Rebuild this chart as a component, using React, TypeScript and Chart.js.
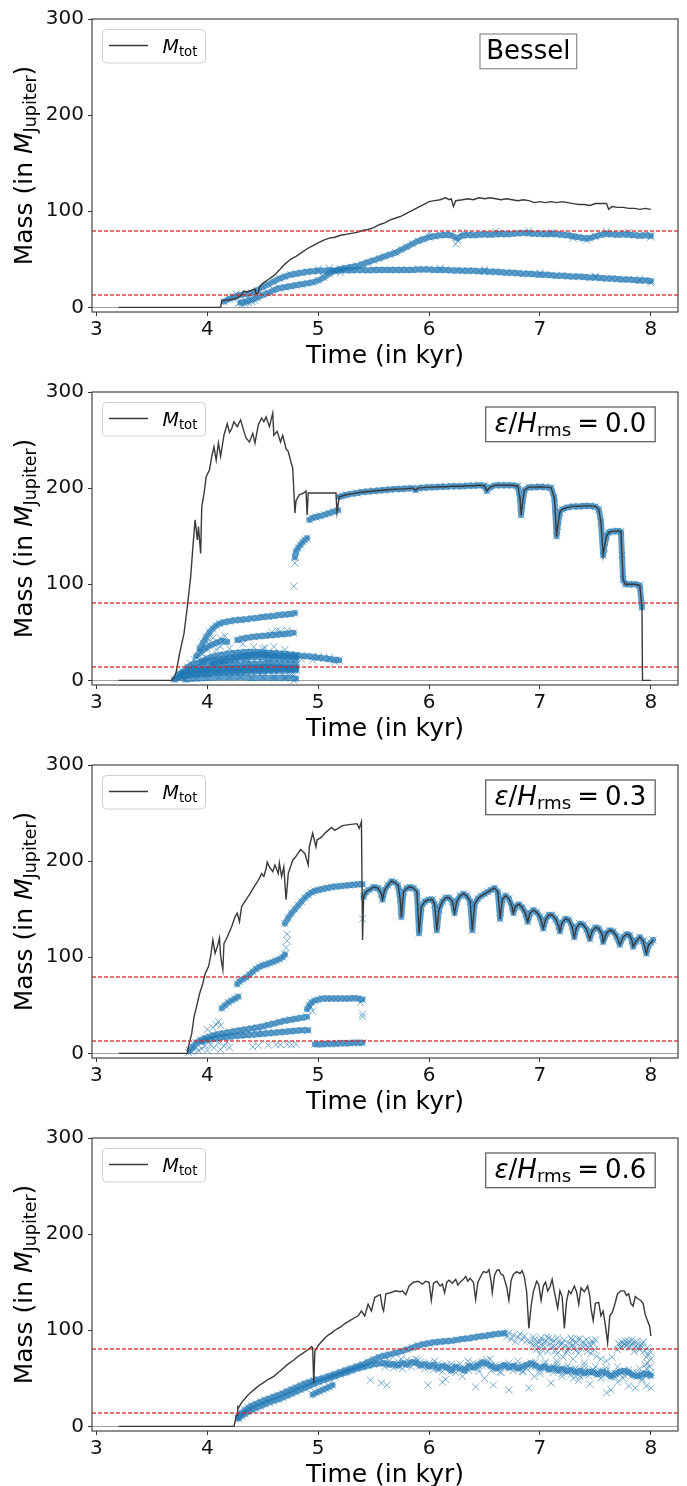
import React, { useEffect, useRef } from "react";
import { Chart, registerables } from "chart.js";

Chart.register(...registerables);

type Pt = [number, number];

// ---------- axes ----------
const X_TICKS = [3, 4, 5, 6, 7, 8];
const Y_TICKS = [0, 100, 200, 300];
const MASS_LIMITS = [13, 80];
const ZERO_LEVEL = [0];

// ---------- Panel 1 : Bessel ----------
const besselTot: Pt[] = [
  [3.2, 0], [4.12, 0], [4.13, 7], [4.2, 8], [4.25, 9], [4.28, 11], [4.3, 12], [4.33, 17], [4.36, 16], [4.4, 18],
  [4.43, 19], [4.44, 14], [4.46, 15], [4.47, 21], [4.5, 25], [4.55, 29], [4.6, 33], [4.65, 39], [4.7, 45], [4.75, 50],
  [4.8, 53], [4.85, 57], [4.9, 61], [4.95, 64], [5.0, 67], [5.05, 70], [5.1, 72], [5.15, 73], [5.2, 75], [5.25, 76],
  [5.3, 77], [5.35, 78], [5.4, 80], [5.45, 81], [5.5, 83], [5.55, 86], [5.6, 88], [5.65, 91], [5.7, 93], [5.75, 95],
  [5.8, 98], [5.85, 101], [5.9, 104], [5.95, 107], [6.0, 110], [6.05, 111], [6.1, 112], [6.15, 114], [6.18, 112], [6.2, 113],
  [6.22, 105], [6.24, 111], [6.3, 112], [6.35, 113], [6.4, 112], [6.45, 114], [6.5, 113], [6.55, 114], [6.6, 113], [6.65, 112],
  [6.7, 113], [6.75, 112], [6.8, 111], [6.85, 112], [6.9, 111], [6.95, 109], [7.0, 110], [7.05, 109], [7.1, 110], [7.15, 109],
  [7.2, 110], [7.25, 109], [7.3, 108], [7.35, 107], [7.4, 107], [7.45, 106], [7.5, 108], [7.55, 108], [7.6, 108], [7.62, 102],
  [7.65, 105], [7.7, 104], [7.75, 104], [7.8, 103], [7.85, 103], [7.9, 102], [7.95, 103], [8.0, 102],
];
const besselSinkA: Pt[] = [
  [4.15, 6], [4.2, 9], [4.25, 11], [4.3, 13], [4.35, 14], [4.4, 15], [4.45, 18], [4.5, 21], [4.55, 24], [4.6, 27],
  [4.65, 30], [4.7, 32], [4.75, 34], [4.8, 35], [4.85, 36], [4.9, 37], [4.95, 37.5], [5.0, 38], [5.05, 38], [5.1, 38.5],
  [5.15, 38], [5.2, 38.5], [5.25, 39], [5.3, 38.5], [5.35, 39], [5.4, 39], [5.45, 38.5], [5.5, 39], [5.55, 39], [5.6, 39],
  [5.65, 39], [5.7, 39], [5.75, 39], [5.8, 39], [5.85, 39], [5.9, 39.5], [5.95, 39.5], [6.0, 39.5], [6.05, 39], [6.1, 39],
  [6.15, 39], [6.2, 38.5], [6.25, 38.5], [6.3, 38], [6.35, 38], [6.4, 38], [6.45, 37.5], [6.5, 37.5], [6.55, 37], [6.6, 37],
  [6.65, 36.5], [6.7, 36], [6.75, 36], [6.8, 35.5], [6.85, 35], [6.9, 35], [6.95, 34.5], [7.0, 34], [7.05, 34], [7.1, 33.5],
  [7.15, 33], [7.2, 33], [7.25, 32.5], [7.3, 32], [7.35, 32], [7.4, 31.5], [7.45, 31], [7.5, 31], [7.55, 30.5], [7.6, 30],
  [7.65, 30], [7.7, 29.5], [7.75, 29], [7.8, 29], [7.85, 28.5], [7.9, 28], [7.95, 28], [8.0, 27.5],
];
const besselSinkB: Pt[] = [
  [4.3, 5], [4.35, 6], [4.4, 8], [4.45, 10], [4.5, 13], [4.55, 15], [4.6, 18], [4.65, 20], [4.7, 21], [4.75, 22],
  [4.8, 23], [4.85, 24], [4.9, 25], [4.95, 26], [5.0, 28], [5.05, 31], [5.1, 35], [5.15, 38], [5.2, 40], [5.25, 41],
  [5.3, 42], [5.35, 43], [5.4, 45], [5.45, 47], [5.5, 49], [5.55, 51], [5.6, 53], [5.65, 55], [5.7, 57], [5.75, 60],
  [5.8, 63], [5.85, 66], [5.9, 69], [5.95, 71], [6.0, 73], [6.05, 74], [6.1, 75], [6.15, 75.5], [6.2, 75], [6.25, 72],
  [6.3, 74.5], [6.35, 75.5], [6.4, 75], [6.45, 75.5], [6.5, 76], [6.55, 75.5], [6.6, 76], [6.65, 76.5], [6.7, 76], [6.75, 76.5],
  [6.8, 77], [6.85, 77.5], [6.9, 77], [6.95, 76.5], [7.0, 76.5], [7.05, 76], [7.1, 76.5], [7.15, 76], [7.2, 75.5], [7.25, 75],
  [7.3, 74], [7.35, 73], [7.4, 72], [7.45, 72], [7.5, 74], [7.55, 75.5], [7.6, 76.5], [7.65, 76], [7.7, 75.5], [7.75, 76],
  [7.8, 75.5], [7.85, 75], [7.9, 74.5], [7.95, 75], [8.0, 74.5],
];
const besselSpots: Pt[] = [
  [4.28, 4], [4.31, 3], [4.34, 4], [4.37, 5], [4.4, 6], [4.43, 7], [4.22, 12], [4.26, 14], [4.36, 10], [6.24, 66], [6.26, 69],
  [6.0, 77], [6.3, 78], [6.6, 79], [6.9, 79.5], [7.1, 78], [7.3, 72], [7.42, 70], [7.6, 79], [7.8, 78], [8.0, 73],
  [5.0, 40], [5.1, 41], [5.2, 36], [6.1, 41], [6.5, 39], [7.0, 36], [7.5, 32.5], [8.0, 25.5], [7.9, 29.5],
];

// ---------- Panel 2 : eps/H = 0.0 ----------
const eps00TotEarly: Pt[] = [
  [3.2, 0], [3.68, 0], [3.7, 3], [3.72, 9], [3.75, 28], [3.79, 49], [3.82, 77], [3.85, 108], [3.87, 139], [3.89, 167],
  [3.91, 146], [3.92, 160], [3.94, 132], [3.95, 181], [3.97, 194], [3.99, 212], [4.02, 219], [4.04, 233], [4.06, 243], [4.08, 229],
  [4.1, 247], [4.12, 233], [4.15, 255], [4.18, 267], [4.2, 258], [4.22, 262], [4.24, 269], [4.27, 264], [4.3, 271], [4.33, 259],
  [4.35, 252], [4.38, 248], [4.41, 257], [4.43, 247], [4.46, 266], [4.49, 273], [4.51, 269], [4.53, 274], [4.56, 264], [4.59, 278],
  [4.6, 255], [4.63, 259], [4.66, 248], [4.68, 255], [4.71, 241], [4.73, 238], [4.75, 229], [4.77, 221], [4.78, 198], [4.79, 174],
  [4.8, 187], [4.83, 193], [4.87, 195], [4.89, 197], [4.9, 172], [4.91, 195], [5.0, 195], [5.1, 195], [5.16, 195], [5.17, 175],
];
const eps00Main: Pt[] = [
  [5.19, 191], [5.22, 192], [5.25, 193], [5.3, 194], [5.35, 195], [5.4, 196], [5.45, 196.5], [5.5, 197], [5.55, 197.5], [5.6, 198],
  [5.65, 198.5], [5.7, 199], [5.75, 199], [5.8, 199.5], [5.85, 200], [5.88, 198], [5.9, 200], [5.95, 200.5], [6.0, 201], [6.05, 201],
  [6.1, 201.5], [6.15, 201.5], [6.2, 202], [6.25, 202], [6.3, 202], [6.35, 202.5], [6.4, 202.5], [6.45, 203], [6.5, 202.5], [6.52, 197],
  [6.55, 201], [6.6, 203], [6.65, 203], [6.7, 203], [6.75, 203], [6.8, 202], [6.82, 190], [6.83, 172], [6.84, 182], [6.86, 198],
  [6.9, 201], [6.95, 201], [7.0, 201.5], [7.05, 201], [7.1, 200.5], [7.13, 190], [7.15, 150], [7.16, 160], [7.18, 175], [7.2, 178],
  [7.25, 180], [7.3, 181], [7.35, 181], [7.4, 181.5], [7.45, 181.5], [7.5, 181], [7.53, 178], [7.55, 165], [7.57, 130], [7.58, 138],
  [7.6, 150], [7.62, 154], [7.65, 155], [7.7, 155.5], [7.73, 155], [7.74, 130], [7.75, 105], [7.77, 100], [7.8, 100], [7.85, 100],
  [7.9, 99], [7.92, 76],
];
const eps00TotEnd: Pt[] = [[7.925, 0], [8.0, 0]];
const eps00Pre: Pt[] = [
  [4.79, 128], [4.8, 134], [4.82, 138], [4.84, 141], [4.86, 144], [4.88, 146], [4.9, 148],
];
const eps00Pre2: Pt[] = [
  [4.92, 167], [4.95, 169], [4.98, 170], [5.02, 171], [5.06, 172.5], [5.1, 174], [5.14, 175.5], [5.18, 177],
];
const eps00TrA: Pt[] = [
  [3.93, 33], [3.96, 39], [3.99, 45], [4.02, 50], [4.05, 54], [4.08, 57], [4.11, 59], [4.15, 60.5], [4.2, 61.5], [4.25, 62.5],
  [4.3, 63], [4.35, 63.5], [4.4, 64.5], [4.45, 65], [4.5, 66], [4.55, 66.5], [4.6, 67], [4.65, 68], [4.7, 68.5], [4.75, 69], [4.79, 70],
];
const eps00TrB: Pt[] = [
  [4.27, 42], [4.32, 43.5], [4.37, 44.5], [4.42, 45.5], [4.47, 46], [4.52, 46.5], [4.57, 47], [4.62, 47.5], [4.67, 48], [4.72, 48.5], [4.78, 49.5],
];
const eps00TrC: Pt[] = [
  [3.9, 25], [3.94, 29], [3.98, 33], [4.02, 36], [4.06, 38], [4.1, 40], [4.14, 41], [4.18, 40],
];
const eps00TrD: Pt[] = [
  [3.95, 20], [4.0, 23], [4.05, 25], [4.1, 26], [4.15, 27], [4.2, 28], [4.25, 28.5], [4.3, 29], [4.35, 29.5], [4.4, 29.5],
  [4.45, 29.5], [4.5, 29], [4.55, 28.5], [4.6, 28.5], [4.65, 28], [4.7, 27.5], [4.75, 27], [4.8, 26.5], [4.85, 25.5], [4.9, 25],
  [4.95, 24.5], [5.0, 23.5], [5.05, 23], [5.1, 22], [5.15, 21.5], [5.19, 21],
];
const eps00TrD2: Pt[] = [
  [4.05, 18], [4.1, 19], [4.15, 20], [4.2, 21], [4.25, 22], [4.3, 23], [4.35, 23.5], [4.4, 24], [4.45, 24], [4.5, 24],
  [4.55, 23.5], [4.6, 23], [4.65, 23], [4.7, 22.5], [4.75, 22], [4.8, 21.5],
];
const eps00TrE: Pt[] = [
  [3.74, 6], [3.78, 9], [3.82, 11], [3.86, 12], [3.9, 13], [3.95, 14], [4.0, 14.5], [4.05, 15], [4.1, 15.5], [4.15, 16],
  [4.2, 16], [4.25, 16.5], [4.3, 16.5], [4.35, 17], [4.4, 17], [4.45, 17], [4.5, 17.5], [4.55, 17.5], [4.6, 17], [4.65, 17],
  [4.7, 16.5], [4.75, 16.5], [4.8, 16],
];
const eps00TrF: Pt[] = [
  [3.7, 1], [3.74, 3], [3.78, 4], [3.82, 5], [3.86, 5.5], [3.9, 6], [3.95, 6.5], [4.0, 7], [4.05, 7.5], [4.1, 8],
  [4.15, 8], [4.2, 8.5], [4.25, 8.5], [4.3, 9], [4.35, 9], [4.4, 9], [4.45, 9.5], [4.5, 9.5], [4.55, 10], [4.6, 10],
  [4.65, 10], [4.7, 10], [4.75, 10.5], [4.8, 10.5],
];
const eps00TrG: Pt[] = [
  [3.8, 1], [3.9, 2], [4.0, 2.5], [4.1, 3], [4.2, 3], [4.3, 3.5], [4.4, 2.5], [4.5, 3], [4.6, 2.5], [4.7, 3], [4.8, 2],
];
const eps00TrH: Pt[] = [
  [3.76, 7], [3.8, 9], [3.85, 10], [3.9, 10.5], [3.95, 11], [4.0, 11.5], [4.05, 12], [4.1, 12], [4.15, 12.5], [4.2, 12.5],
  [4.25, 13], [4.3, 13], [4.35, 13.5], [4.4, 13.5], [4.45, 13.5], [4.5, 14], [4.55, 14], [4.6, 13.5], [4.65, 13.5], [4.7, 13],
  [4.75, 13], [4.8, 13],
];
const eps00TrI: Pt[] = [
  [3.82, 14], [3.86, 16], [3.9, 18], [3.95, 19], [4.0, 20], [4.05, 21], [4.1, 21.5], [4.15, 22], [4.2, 23], [4.25, 24],
  [4.3, 25], [4.35, 26], [4.4, 26.5], [4.45, 27], [4.5, 27], [4.55, 26.5], [4.6, 26], [4.65, 25.5], [4.7, 25], [4.75, 25], [4.8, 24.5],
];
const eps00TrJ: Pt[] = [
  [3.72, 2], [3.76, 4], [3.8, 6], [3.85, 7], [3.9, 8], [3.95, 8.5], [4.0, 9], [4.1, 9.5], [4.2, 10], [4.3, 10.5],
  [4.4, 11], [4.5, 11], [4.6, 11.5], [4.7, 12], [4.8, 12],
];
const eps00Spots: Pt[] = [
  [4.78, 98], [4.79, 122], [3.85, 18], [3.88, 22], [3.92, 26], [4.0, 40], [4.05, 44], [4.08, 32], [4.12, 35], [4.2, 33],
  [4.3, 26], [4.35, 21], [4.42, 35], [4.5, 33], [4.55, 20], [4.6, 5], [4.65, 14], [4.7, 32], [4.63, 52], [4.66, 51],
  [4.78, 5], [4.78, 0], [4.78, 12], [4.6, 35], [4.45, 13], [4.25, 12], [4.0, 33], [4.12, 44], [4.7, 2], [4.75, 6],
  [4.72, 52], [4.58, 50], [4.32, 38], [4.16, 46], [4.52, 34], [4.85, 22], [5.0, 25], [5.1, 24], [4.95, 21], [5.15, 19],
];

// ---------- Panel 3 : eps/H = 0.3 ----------
const eps03TotEarly: Pt[] = [
  [3.2, 0], [3.82, 0], [3.83, 7], [3.86, 21], [3.88, 38], [3.91, 52], [3.93, 62], [3.96, 73], [3.98, 83], [4.01, 90],
  [4.03, 101], [4.05, 118], [4.07, 104], [4.09, 111], [4.11, 120], [4.12, 101], [4.14, 87], [4.15, 114], [4.18, 121], [4.22, 132],
  [4.25, 142], [4.27, 146], [4.29, 137], [4.31, 153], [4.35, 160], [4.39, 167], [4.42, 173], [4.46, 180], [4.49, 187], [4.51, 184],
  [4.53, 192], [4.54, 199], [4.56, 194], [4.59, 189], [4.61, 196], [4.64, 187], [4.65, 198], [4.67, 184], [4.69, 194], [4.71, 160],
  [4.72, 173], [4.73, 187], [4.77, 201], [4.8, 205], [4.84, 212], [4.88, 208], [4.91, 196], [4.92, 215], [4.95, 229], [4.98, 215],
  [4.99, 222], [5.03, 225], [5.06, 229], [5.09, 232], [5.12, 235], [5.15, 232], [5.22, 237], [5.28, 238], [5.35, 239], [5.37, 234],
  [5.39, 241], [5.4, 118],
];
const eps03Main: Pt[] = [
  [5.41, 163], [5.43, 168], [5.46, 170], [5.5, 173], [5.54, 172], [5.57, 166], [5.58, 160], [5.6, 170], [5.63, 175], [5.66, 179],
  [5.69, 178], [5.72, 175], [5.74, 160], [5.75, 142], [5.77, 168], [5.8, 172], [5.83, 173], [5.86, 172], [5.89, 168], [5.91, 125],
  [5.93, 152], [5.96, 158], [6.0, 160], [6.03, 160], [6.05, 155], [6.07, 128], [6.09, 150], [6.12, 158], [6.15, 162], [6.18, 162],
  [6.21, 158], [6.23, 146], [6.25, 158], [6.28, 164], [6.31, 166], [6.34, 164], [6.37, 158], [6.39, 128], [6.41, 155], [6.44, 161],
  [6.47, 164], [6.5, 166], [6.53, 168], [6.56, 170], [6.59, 172], [6.62, 168], [6.64, 140], [6.66, 160], [6.69, 164], [6.72, 161],
  [6.75, 152], [6.76, 146], [6.78, 153], [6.81, 155], [6.84, 152], [6.87, 145], [6.89, 137], [6.91, 146], [6.94, 149], [6.97, 147],
  [7.0, 142], [7.03, 130], [7.05, 139], [7.08, 144], [7.11, 144], [7.14, 140], [7.17, 132], [7.18, 127], [7.2, 136], [7.23, 140],
  [7.26, 139], [7.29, 132], [7.31, 121], [7.33, 131], [7.36, 135], [7.39, 134], [7.42, 129], [7.45, 119], [7.47, 127], [7.5, 131],
  [7.53, 130], [7.56, 124], [7.57, 116], [7.6, 125], [7.63, 128], [7.66, 127], [7.69, 122], [7.72, 113], [7.75, 121], [7.78, 124],
  [7.81, 123], [7.83, 117], [7.84, 111], [7.87, 117], [7.9, 121], [7.93, 117], [7.96, 104], [7.98, 113], [8.0, 115], [8.02, 118],
];
const eps03Big: Pt[] = [
  [4.7, 135], [4.73, 141], [4.76, 146], [4.79, 150], [4.82, 154], [4.85, 158], [4.88, 162], [4.91, 165], [4.94, 167.5], [4.97, 169],
  [5.0, 170], [5.04, 171], [5.08, 172], [5.12, 173], [5.16, 173.5], [5.2, 174], [5.24, 174.5], [5.28, 175], [5.32, 175.5], [5.36, 176], [5.4, 176],
];
const eps03Pre: Pt[] = [
  [4.27, 72], [4.29, 75], [4.32, 77], [4.35, 79], [4.38, 82], [4.41, 85], [4.44, 88], [4.47, 90], [4.5, 91.5], [4.53, 92.5],
  [4.56, 94], [4.59, 95], [4.62, 96.5], [4.65, 98], [4.68, 100], [4.7, 103],
];
const eps03Short: Pt[] = [
  [4.13, 47], [4.16, 50], [4.19, 53], [4.22, 55], [4.25, 57], [4.28, 59],
];
const eps03B55: Pt[] = [
  [4.9, 46], [4.92, 50], [4.94, 53], [4.97, 55], [5.0, 56], [5.04, 57], [5.08, 57], [5.12, 57], [5.16, 57], [5.2, 57],
  [5.24, 57], [5.28, 57], [5.32, 57.5], [5.36, 57], [5.4, 56],
];
const eps03B38: Pt[] = [
  [3.84, 3], [3.87, 7], [3.9, 11], [3.94, 14], [3.98, 16], [4.02, 17.5], [4.06, 19], [4.1, 20], [4.15, 21], [4.2, 22],
  [4.25, 23], [4.3, 24], [4.35, 25], [4.4, 26], [4.45, 27], [4.5, 28], [4.55, 29.5], [4.6, 31], [4.65, 32.5], [4.7, 34],
  [4.75, 35], [4.8, 36], [4.85, 37], [4.9, 38],
];
const eps03B22: Pt[] = [
  [3.95, 12], [4.0, 14], [4.05, 15], [4.1, 16], [4.15, 17], [4.2, 17.5], [4.25, 18], [4.3, 18.5], [4.35, 19], [4.4, 19.5],
  [4.45, 20], [4.5, 20.5], [4.55, 21], [4.6, 21.5], [4.65, 22], [4.7, 22.5], [4.75, 23], [4.8, 23.5], [4.85, 24], [4.91, 24],
];
const eps03B9: Pt[] = [
  [4.97, 9.5], [5.0, 9.5], [5.04, 9.5], [5.08, 10], [5.12, 10], [5.16, 10], [5.2, 10.5], [5.24, 10.5], [5.28, 10.5], [5.32, 11],
  [5.36, 11], [5.4, 11],
];
const eps03Spots: Pt[] = [
  [4.71, 110], [4.72, 117], [4.72, 124], [5.4, 41], [5.38, 53], [5.4, 38], [5.4, 140], [4.41, 7], [4.46, 8], [4.55, 8.5],
  [4.62, 9], [4.66, 9], [4.72, 9.5], [4.76, 9], [4.8, 9.5], [3.83, 1], [3.86, 2], [3.88, 4], [3.9, 6], [3.92, 3],
  [3.95, 5], [3.98, 8], [4.0, 3], [4.03, 9], [4.06, 6], [4.1, 11], [4.12, 4], [4.15, 8], [4.18, 12], [4.2, 6],
  [4.05, 27], [4.08, 30], [4.1, 33], [4.12, 29], [4.0, 25], [4.93, 48], [4.95, 44],
];

// ---------- Panel 4 : eps/H = 0.6 ----------
const eps06Tot: Pt[] = [
  [3.2, 0], [4.24, 0], [4.25, 5], [4.26, 11], [4.27, 12], [4.275, 20], [4.28, 19], [4.31, 25], [4.34, 29], [4.37, 33],
  [4.4, 36], [4.43, 39], [4.46, 42], [4.5, 45], [4.55, 49], [4.6, 52], [4.64, 56], [4.68, 60], [4.73, 65], [4.78, 69],
  [4.82, 73], [4.86, 76], [4.91, 80], [4.94, 83], [4.95, 82], [4.96, 45], [4.97, 78], [5.0, 84], [5.03, 88], [5.06, 92],
  [5.09, 95], [5.12, 97], [5.15, 100], [5.18, 102], [5.21, 104], [5.24, 107], [5.27, 109], [5.3, 111], [5.33, 113], [5.36, 115],
  [5.39, 120], [5.42, 115], [5.45, 127], [5.48, 120], [5.51, 134], [5.54, 136], [5.56, 137], [5.58, 123], [5.59, 120], [5.61, 138],
  [5.65, 139], [5.7, 141], [5.74, 140], [5.76, 141], [5.79, 137], [5.82, 146], [5.86, 150], [5.9, 151], [5.94, 148], [5.97, 151],
  [6.0, 150], [6.02, 131], [6.04, 149], [6.07, 151], [6.1, 146], [6.12, 148], [6.14, 139], [6.16, 150], [6.18, 152], [6.21, 149],
  [6.24, 153], [6.26, 147], [6.28, 150], [6.31, 153], [6.33, 156], [6.35, 151], [6.37, 154], [6.4, 150], [6.42, 132], [6.44, 150],
  [6.47, 157], [6.49, 161], [6.52, 160], [6.54, 163], [6.56, 150], [6.57, 139], [6.59, 157], [6.61, 162], [6.63, 163], [6.65, 158],
  [6.67, 157], [6.7, 145], [6.72, 131], [6.74, 152], [6.76, 158], [6.79, 161], [6.82, 159], [6.84, 162], [6.86, 155], [6.88, 140],
  [6.9, 102], [6.92, 125], [6.94, 140], [6.97, 151], [6.99, 147], [7.01, 131], [7.03, 146], [7.05, 150], [7.07, 141], [7.09, 145],
  [7.11, 153], [7.13, 140], [7.16, 123], [7.18, 141], [7.2, 135], [7.22, 102], [7.24, 130], [7.26, 141], [7.28, 138], [7.31, 146],
  [7.33, 140], [7.35, 127], [7.37, 144], [7.4, 140], [7.43, 146], [7.45, 135], [7.46, 123], [7.48, 110], [7.5, 128], [7.53, 129],
  [7.55, 115], [7.57, 120], [7.59, 105], [7.61, 87], [7.63, 115], [7.65, 118], [7.67, 125], [7.7, 138], [7.73, 141], [7.76, 141],
  [7.78, 136], [7.8, 138], [7.82, 128], [7.84, 125], [7.86, 135], [7.88, 133], [7.91, 131], [7.93, 128], [7.95, 116], [7.97, 110],
  [7.99, 104], [8.0, 94],
];
const eps06Upper: Pt[] = [
  [4.28, 10], [4.31, 14], [4.34, 17], [4.37, 19.5], [4.4, 21.5], [4.44, 23.5], [4.48, 25.5], [4.52, 27.5], [4.56, 29], [4.6, 31],
  [4.64, 32.5], [4.68, 34.5], [4.72, 36.5], [4.76, 38.5], [4.8, 40.5], [4.84, 42.5], [4.88, 44.5], [4.92, 46], [4.96, 47.5], [5.0, 49],
  [5.05, 50.5], [5.1, 52.5], [5.15, 54.5], [5.2, 56.5], [5.25, 58.5], [5.3, 60.5], [5.35, 62.5], [5.4, 64.5], [5.45, 67], [5.5, 69.5],
  [5.55, 72], [5.6, 73.5], [5.65, 75], [5.7, 76.5], [5.75, 78], [5.8, 80], [5.85, 82], [5.9, 84], [5.95, 85.5], [6.0, 86.5],
  [6.05, 87.5], [6.1, 88], [6.15, 88.5], [6.2, 89], [6.25, 90], [6.3, 91], [6.35, 91.5], [6.4, 92.5], [6.45, 93.5], [6.5, 94],
  [6.55, 95], [6.6, 96], [6.65, 96.5], [6.68, 97],
];
const eps06Lower: Pt[] = [
  [4.28, 8], [4.31, 11], [4.34, 13], [4.37, 15], [4.4, 17], [4.44, 19], [4.48, 21], [4.52, 23], [4.56, 25], [4.6, 26.5],
  [4.64, 28], [4.68, 30], [4.72, 32], [4.76, 34], [4.8, 36], [4.84, 38], [4.88, 40], [4.92, 42], [4.96, 44], [5.0, 46],
  [5.05, 48], [5.1, 50], [5.15, 52], [5.2, 54], [5.25, 56], [5.3, 58], [5.35, 60], [5.4, 61.5], [5.45, 63], [5.5, 64.5],
  [5.55, 65.5], [5.6, 66], [5.64, 64], [5.68, 65], [5.72, 63], [5.76, 66], [5.8, 64], [5.84, 67], [5.88, 66], [5.92, 63],
  [5.96, 65], [6.0, 62], [6.04, 64], [6.08, 60], [6.12, 63], [6.16, 61], [6.2, 58], [6.24, 62], [6.28, 60], [6.32, 58],
  [6.36, 63], [6.4, 61], [6.44, 64], [6.48, 67], [6.52, 65], [6.56, 63], [6.6, 60], [6.64, 62], [6.68, 64], [6.72, 61],
  [6.76, 63], [6.8, 60], [6.84, 62], [6.88, 64], [6.92, 66], [6.96, 63], [7.0, 61], [7.04, 62], [7.08, 59], [7.12, 61],
  [7.16, 58], [7.2, 60], [7.24, 57], [7.28, 59], [7.32, 56], [7.36, 58], [7.4, 55], [7.44, 57], [7.48, 56], [7.52, 54],
  [7.56, 57], [7.6, 55], [7.64, 52], [7.68, 55], [7.72, 57], [7.76, 58], [7.8, 56], [7.84, 53], [7.88, 52], [7.92, 54],
  [7.96, 55], [8.0, 53],
];
const eps06Spur: Pt[] = [
  [4.95, 33], [4.98, 35], [5.01, 36.5], [5.04, 38], [5.07, 39.5], [5.1, 41], [5.13, 43],
];
const eps06Cloud: Pt[] = [
  [6.7, 93], [6.72, 97], [6.74, 91], [6.76, 95], [6.78, 88], [6.8, 93], [6.82, 96], [6.84, 90], [6.86, 94], [6.88, 89],
  [6.93, 85], [6.95, 90], [6.97, 80], [6.99, 87], [7.01, 92], [7.03, 84], [7.05, 89], [7.07, 78], [7.09, 86], [7.11, 91],
  [7.13, 83], [7.15, 75], [7.17, 88], [7.19, 80], [7.21, 72], [7.23, 84], [7.25, 79], [7.27, 86], [7.29, 90], [7.31, 82],
  [7.33, 87], [7.35, 76], [7.37, 81], [7.39, 88], [7.41, 84], [7.43, 78], [7.45, 85], [7.47, 89], [7.49, 80], [7.51, 73],
  [7.55, 70], [7.6, 68], [7.65, 72], [7.7, 80], [7.72, 85], [7.74, 88], [7.76, 86], [7.78, 84], [7.8, 89], [7.82, 85],
  [7.84, 87], [7.86, 83], [7.88, 85], [7.9, 80], [7.92, 86], [7.94, 78], [7.96, 72], [7.98, 75], [8.0, 70], [7.3, 70],
  [7.0, 75], [7.15, 68], [7.4, 66], [6.98, 82], [7.06, 93], [7.18, 85], [7.36, 91], [7.46, 76], [7.85, 78], [7.95, 64],
  [6.91, 88], [6.94, 93], [6.96, 86], [7.0, 89], [7.02, 80], [7.04, 87], [7.08, 92], [7.1, 82], [7.12, 88], [7.14, 79],
  [7.16, 92], [7.2, 86], [7.22, 90], [7.24, 77], [7.26, 82], [7.28, 92], [7.3, 85], [7.32, 79], [7.34, 91], [7.38, 84],
  [7.42, 90], [7.44, 82], [7.48, 86], [7.5, 90], [7.71, 86], [7.73, 82], [7.75, 84], [7.77, 89], [7.79, 86], [7.81, 82],
  [7.83, 90], [7.87, 88], [7.89, 81], [7.91, 84], [7.93, 88], [7.97, 82], [7.99, 78], [7.97, 66], [7.99, 62], [7.96, 60],
];
const eps06Lower2: Pt[] = [
  [5.6, 62], [5.64, 68], [5.68, 61], [5.72, 67], [5.76, 60], [5.8, 69], [5.84, 62], [5.88, 70], [5.92, 67], [5.96, 60],
  [6.0, 66], [6.04, 59], [6.08, 65], [6.12, 57], [6.16, 64], [6.2, 62], [6.24, 56], [6.28, 65], [6.32, 61], [6.36, 58],
  [6.4, 66], [6.44, 60], [6.48, 63], [6.52, 69], [6.56, 58], [6.6, 64], [6.64, 57], [6.68, 61], [6.72, 66], [6.76, 58],
  [6.8, 64], [6.84, 57], [6.88, 60], [6.92, 62], [6.96, 67], [7.0, 58], [7.04, 65], [7.08, 62], [7.12, 56], [7.16, 62],
  [7.2, 55], [7.24, 61], [7.28, 54], [7.32, 60], [7.36, 52], [7.4, 59], [7.44, 53], [7.48, 59], [7.52, 57], [7.56, 52],
  [7.6, 58], [7.64, 55], [7.68, 51], [7.72, 54], [7.76, 53], [7.8, 59], [7.84, 56], [7.88, 55], [7.92, 50], [7.96, 52], [8.0, 56],
];
const eps06Outliers: Pt[] = [
  [5.47, 48], [5.57, 45], [5.62, 43], [5.99, 43], [6.12, 46], [6.15, 49], [6.42, 41], [6.58, 43], [6.72, 38], [6.9, 40],
  [6.95, 52], [7.1, 45], [7.3, 50], [7.45, 44], [7.6, 35], [7.64, 38], [7.7, 46], [7.8, 42], [7.86, 40], [7.96, 42],
  [8.0, 40], [6.3, 52], [6.5, 50], [7.0, 55], [7.2, 52], [7.35, 48], [7.55, 50], [5.75, 70], [5.9, 69], [6.05, 68],
  [6.35, 68], [6.55, 70], [6.8, 68], [7.05, 67], [7.15, 65], [7.4, 63], [7.5, 62], [7.7, 62], [7.9, 60], [7.35, 54],
  [6.2, 65], [6.45, 57], [6.65, 56], [6.85, 57], [7.25, 63], [7.6, 61], [7.75, 50], [7.92, 48],
];

// ---------- styling ----------
const FONT = "'DejaVu Sans', 'Liberation Sans', sans-serif";
const TOT_COLOR = "#3a3a3a";
const SINK_LINE = "rgba(31,119,180,0.72)";
const SINK_MARK = "rgba(31,119,180,0.6)";

type Run = { t: string; size: number; italic?: boolean; dy?: number; gap?: number };

interface Panel {
  kind: "bessel" | "eps";
  value: string;
  tot: Pt[];
  tracks: Pt[][];
  clouds: Pt[][];
}

const PANELS: Panel[] = [
  { kind: "bessel", value: "", tot: besselTot, tracks: [besselSinkA, besselSinkB], clouds: [besselSpots] },
  {
    kind: "eps", value: "0.0",
    tot: [...eps00TotEarly, ...eps00Main, ...eps00TotEnd],
    tracks: [eps00Main, eps00Pre, eps00Pre2, eps00TrA, eps00TrB, eps00TrC, eps00TrD, eps00TrD2, eps00TrE, eps00TrF, eps00TrG,
      eps00TrH, eps00TrI, eps00TrJ],
    clouds: [eps00Spots],
  },
  {
    kind: "eps", value: "0.3",
    tot: [...eps03TotEarly, ...eps03Main],
    tracks: [eps03Main, eps03Big, eps03Pre, eps03Short, eps03B55, eps03B38, eps03B22, eps03B9],
    clouds: [eps03Spots],
  },
  {
    kind: "eps", value: "0.6",
    tot: eps06Tot,
    tracks: [eps06Upper, eps06Lower, eps06Spur],
    clouds: [eps06Cloud, eps06Lower2, eps06Outliers],
  },
];

const W = 687;
const H = 373;

function fontOf(r: Run) {
  return `${r.italic ? "italic " : ""}${r.size}px ${FONT}`;
}
function runsWidth(ctx: CanvasRenderingContext2D, runs: Run[]) {
  let w = 0;
  for (const r of runs) {
    ctx.font = fontOf(r);
    w += ctx.measureText(r.t).width + (r.gap || 0);
  }
  return w;
}
function drawRuns(ctx: CanvasRenderingContext2D, runs: Run[], x: number, y: number) {
  let cx = x;
  for (const r of runs) {
    ctx.font = fontOf(r);
    ctx.fillText(r.t, cx, y + (r.dy || 0));
    cx += ctx.measureText(r.t).width + (r.gap || 0);
  }
}
function roundRect(ctx: CanvasRenderingContext2D, x: number, y: number, w: number, h: number, r: number) {
  ctx.beginPath();
  ctx.moveTo(x + r, y);
  ctx.lineTo(x + w - r, y);
  ctx.arcTo(x + w, y, x + w, y + r, r);
  ctx.lineTo(x + w, y + h - r);
  ctx.arcTo(x + w, y + h, x + w - r, y + h, r);
  ctx.lineTo(x + r, y + h);
  ctx.arcTo(x, y + h, x, y + h - r, r);
  ctx.lineTo(x, y + r);
  ctx.arcTo(x, y, x + r, y, r);
  ctx.closePath();
}

function makeDecor(panel: Panel, pageTop: number) {
  return {
    id: "panelDecor",
    beforeDatasetsDraw(chart: any) {
      const { ctx, chartArea: a, scales } = chart;
      ctx.save();
      ctx.strokeStyle = "#a0a0a0";
      ctx.lineWidth = 1;
      for (const v of ZERO_LEVEL) {
        const y = Math.round(scales.y.getPixelForValue(v)) + 0.5;
        ctx.beginPath();
        ctx.moveTo(a.left, y);
        ctx.lineTo(a.right, y);
        ctx.stroke();
      }
      ctx.restore();
    },
    afterDatasetsDraw(chart: any) {
      const { ctx, chartArea: a, scales } = chart;
      ctx.save();
      ctx.strokeStyle = "rgba(214,39,40,0.85)";
      ctx.lineWidth = 1.4;
      ctx.setLineDash([4, 2]);
      for (const v of MASS_LIMITS) {
        // keep the thin red dash on a pair of page rows (even row first) so its colour survives photo compression
        const pageY = pageTop + scales.y.getPixelForValue(v);
        const center = 2 * Math.round((pageY - 1) / 2) + 1;
        const y = center - pageTop;
        ctx.beginPath();
        ctx.moveTo(a.left, y);
        ctx.lineTo(a.right, y);
        ctx.stroke();
      }
      ctx.setLineDash([]);
      ctx.strokeStyle = "#444";
      ctx.lineWidth = 1.2;
      ctx.strokeRect(a.left, a.top, a.right - a.left, a.bottom - a.top);
      ctx.restore();
    },
    afterDraw(chart: any) {
      const { ctx, chartArea: a } = chart;
      ctx.save();
      ctx.fillStyle = "#000";
      ctx.textBaseline = "alphabetic";
      ctx.textAlign = "left";

      // legend
      const lx = a.left + 10.5, ly = a.top + 10.5, lw = 103, lh = 33.5;
      roundRect(ctx, lx, ly, lw, lh, 4);
      ctx.fillStyle = "rgba(255,255,255,0.85)";
      ctx.fill();
      ctx.strokeStyle = "#d0d0d0";
      ctx.lineWidth = 1;
      ctx.stroke();
      ctx.strokeStyle = TOT_COLOR;
      ctx.lineWidth = 1.5;
      ctx.beginPath();
      ctx.moveTo(a.left + 17, a.top + 26.5);
      ctx.lineTo(a.left + 56, a.top + 26.5);
      ctx.stroke();
      ctx.fillStyle = "#000";
      drawRuns(ctx, [
        { t: "M", size: 19, italic: true },
        { t: "tot", size: 13.3, dy: 3 },
      ], a.left + 70.5, a.top + 33.7);

      // label box
      let runs: Run[];
      let x0: number, x1: number;
      if (panel.kind === "bessel") {
        runs = [{ t: "Bessel", size: 26 }];
        x0 = a.left + 388; x1 = a.left + 484.7;
        ctx.strokeStyle = "#8a8a8a";
      } else {
        runs = [
          { t: "ε", size: 26, italic: true },
          { t: "/", size: 26 },
          { t: "H", size: 26, italic: true },
          { t: "rms", size: 18.2, dy: 4, gap: 6 },
          { t: "=", size: 26, gap: 6 },
          { t: panel.value, size: 26 },
        ];
        x0 = a.left + 393.7; x1 = a.left + 563.2;
        ctx.strokeStyle = "#555";
      }
      const by0 = a.top + 15, by1 = a.top + 49.7;
      ctx.fillStyle = "#fff";
      ctx.fillRect(x0, by0, x1 - x0, by1 - by0);
      ctx.lineWidth = 1.2;
      ctx.strokeRect(x0, by0, x1 - x0, by1 - by0);
      const cx = (x0 + x1) / 2;
      const tw = runsWidth(ctx, runs);
      ctx.fillStyle = "#000";
      drawRuns(ctx, runs, cx - tw / 2, a.top + 39.5);

      // x title
      ctx.font = `25px ${FONT}`;
      ctx.textAlign = "center";
      ctx.fillText("Time (in kyr)", (a.left + a.right) / 2, a.bottom + 51);
      ctx.textAlign = "left";

      // y title
      const yRuns: Run[] = [
        { t: "Mass (in ", size: 25 },
        { t: "M", size: 25, italic: true },
        { t: "Jupiter", size: 17.5, dy: 4 },
        { t: ")", size: 25 },
      ];
      const yw = runsWidth(ctx, yRuns);
      ctx.translate(32, (a.top + a.bottom) / 2);
      ctx.rotate(-Math.PI / 2);
      drawRuns(ctx, yRuns, -yw / 2, 0);
      ctx.restore();
    },
  };
}

function PanelChart({ panel, top }: { panel: Panel; top: number }) {
  const ref = useRef<HTMLCanvasElement | null>(null);
  useEffect(() => {
    if (!ref.current) return;
    const toXY = (arr: Pt[]) => arr.map(([x, y]) => ({ x, y }));
    const datasets: any[] = [
      {
        data: toXY(panel.tot),
        showLine: true,
        borderColor: TOT_COLOR,
        borderWidth: 1.4,
        pointRadius: 0,
        fill: false,
      },
      ...panel.tracks.map((tr) => ({
        data: toXY(tr),
        showLine: true,
        borderColor: SINK_LINE,
        borderWidth: 6,
        borderCapStyle: "round",
        borderJoinStyle: "round",
        pointStyle: "crossRot",
        pointRadius: 5,
        pointBorderWidth: 1,
        pointBorderColor: SINK_MARK,
        pointBackgroundColor: SINK_MARK,
        fill: false,
      })),
      ...panel.clouds.map((c) => ({
        data: toXY(c),
        showLine: false,
        pointStyle: "crossRot",
        pointRadius: 5,
        pointBorderWidth: 1,
        pointBorderColor: SINK_MARK,
        pointBackgroundColor: SINK_MARK,
      })),
    ];
    const chart = new Chart(ref.current, {
      type: "scatter",
      data: { datasets },
      options: {
        animation: false,
        responsive: false,
        devicePixelRatio: 1,
        events: [],
        layout: { padding: { left: 0, top: 19, right: 9, bottom: 0 } },
        plugins: { legend: { display: false }, tooltip: { enabled: false } },
        scales: {
          x: {
            type: "linear",
            min: 2.96,
            max: 8.245,
            afterBuildTicks: (s: any) => {
              s.ticks = X_TICKS.map((v) => ({ value: v }));
            },
            afterFit: (s: any) => {
              s.height = 61;
            },
            grid: { display: true, drawOnChartArea: false, drawTicks: true, tickLength: 4, color: "#333", tickColor: "#333" },
            border: { display: false },
            ticks: {
              autoSkip: false,
              maxRotation: 0,
              padding: 2,
              color: "#111",
              font: { size: 20, family: FONT },
              callback: (v: any) => String(v),
            },
          },
          y: {
            type: "linear",
            min: -4.8,
            max: 300,
            afterBuildTicks: (s: any) => {
              s.ticks = Y_TICKS.map((v) => ({ value: v }));
            },
            afterFit: (s: any) => {
              s.width = 92;
            },
            grid: { display: true, drawOnChartArea: false, drawTicks: true, tickLength: 4, color: "#333", tickColor: "#333" },
            border: { display: false },
            ticks: {
              autoSkip: false,
              padding: 4,
              color: "#111",
              font: { size: 20, family: FONT },
              callback: (v: any) => String(v),
            },
          },
        },
      } as any,
      plugins: [makeDecor(panel, top) as any],
    });
    return () => chart.destroy();
  }, [panel, top]);
  return (
    <canvas
      ref={ref}
      width={W}
      height={H}
      style={{ position: "absolute", left: 0, top, width: W, height: H, display: "block" }}
    />
  );
}

export default function App() {
  return (
    <div
      style={{
        position: "absolute",
        left: 0,
        top: 0,
        width: W,
        height: 1486,
        overflow: "hidden",
        background: "#fff",
      }}
    >
      {PANELS.map((p, i) => (
        <PanelChart key={i} panel={p} top={i * H} />
      ))}
    </div>
  );
}
